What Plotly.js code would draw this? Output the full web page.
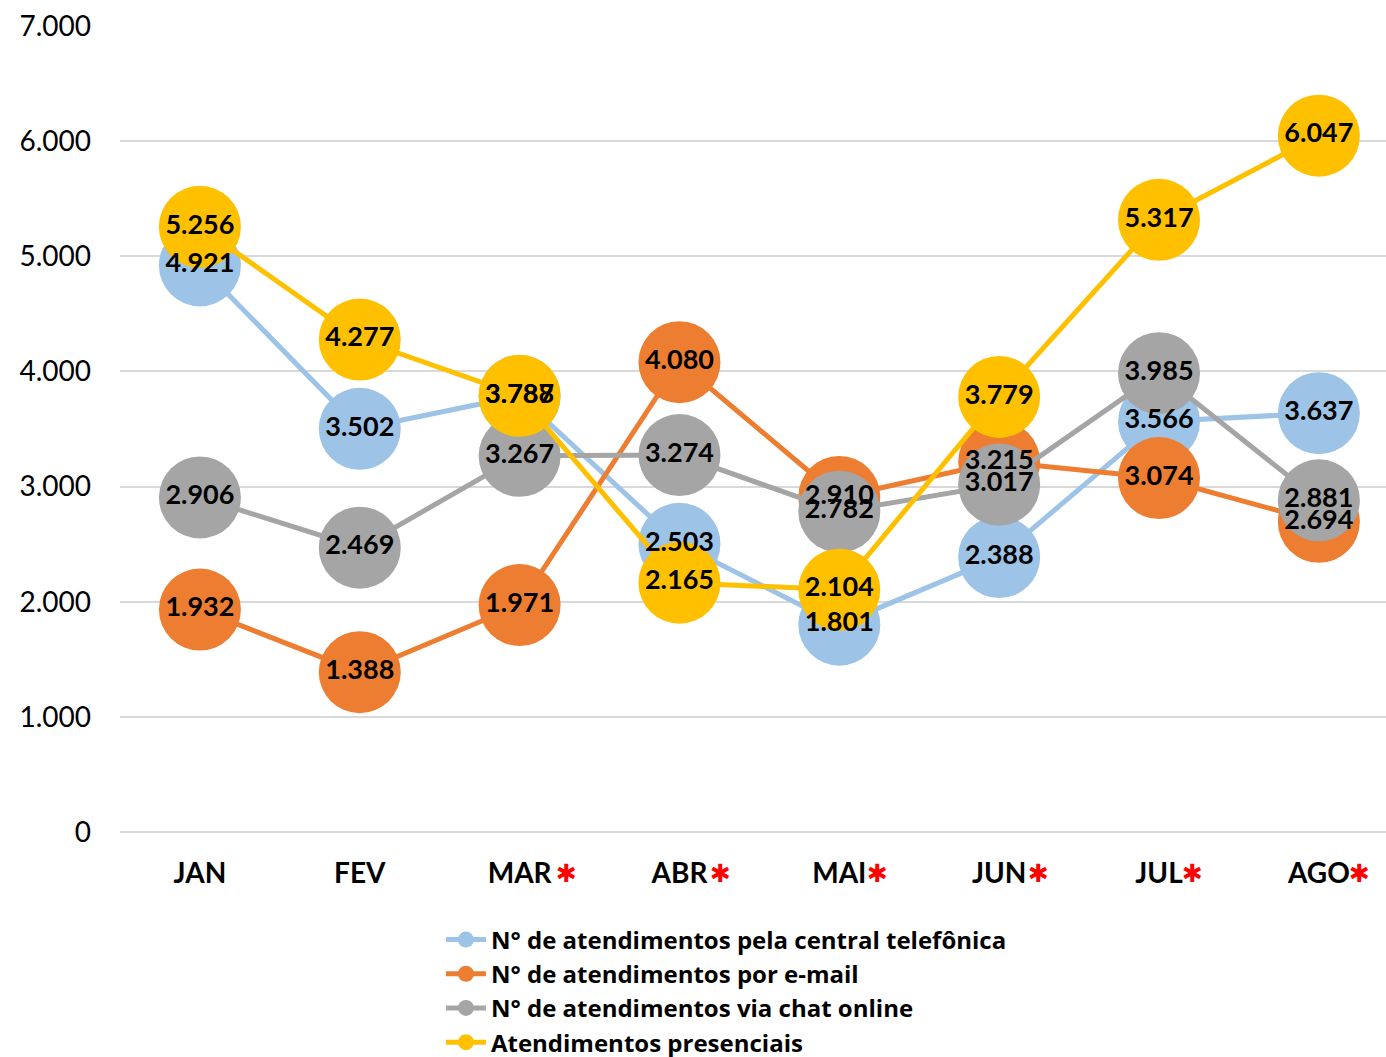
<!DOCTYPE html>
<html>
<head>
<meta charset="utf-8">
<script src="https://cdn.plot.ly/plotly-3.0.1.min.js"></script>
<style>body{margin:0;background:#fff}#chart{width:1386px;height:1057px}</style>
</head>
<body>
<div id="chart"></div>
<script>
const months = ["JAN","FEV","MAR","ABR","MAI","JUN","JUL","AGO"];
const starred = [false,false,true,true,true,true,true,true];
const seriesNames = ["N° de atendimentos pela central telefônica","N° de atendimentos por e-mail","N° de atendimentos via chat online","Atendimentos presenciais"];
const telefonica = [4921, 3502, 3787, 2503, 1801, 2388, 3566, 3637];
const email = [1932, 1388, 1971, 4080, 2910, 3215, 3074, 2694];
const chat = [2906, 2469, 3267, 3274, 2782, 3017, 3985, 2881];
const presenciais = [5256, 4277, 3788, 2165, 2104, 3779, 5317, 6047];
const yTicks = [0,1000,2000,3000,4000,5000,6000,7000];

const colors = ["#9DC3E6","#ED7D31","#A5A5A5","#FFC000"];
const allSeries = [telefonica, email, chat, presenciais];
const FONT = "Lato, 'Open Sans', sans-serif";
const LEGEND_FONT = "'Open Sans', Lato, sans-serif";
// horizontal offset (px) of the red asterisk from each category centre
const asteriskShift = {MAR:47, ABR:41, MAI:38.5, JUN:39.5, JUL:33.5, AGO:40.5};

function fmt(v){ return String(v).replace(/\B(?=(\d{3})+(?!\d))/g, "."); }

const traces = [];
allSeries.forEach((s,i)=>{
  traces.push({
    type:"scatter", mode:"lines+markers", x:months, y:s, name:seriesNames[i],
    line:{color:colors[i], width:5},
    marker:{color:colors[i], size:82},
    cliponaxis:false, hoverinfo:"skip"
  });
});
allSeries.forEach((s,i)=>{
  traces.push({
    type:"scatter", mode:"text", x:months, y:s, text:s.map(fmt),
    textposition:"middle center",
    textfont:{family:FONT, size:27, color:"#000", weight:"bold"},
    showlegend:false, cliponaxis:false, hoverinfo:"skip"
  });
});

const annotations = months.filter((m,i)=>starred[i]).map(m=>({
  x:m, y:0, xref:"x", yref:"y", text:"✱", showarrow:false,
  xanchor:"center", yanchor:"middle", xshift:asteriskShift[m], yshift:-41,
  font:{family:"DejaVu Sans", size:25, color:"#FF0000"}
}));

const layout = {
  width:1386, height:1057,
  margin:{l:120, r:0, t:26, b:225, autoexpand:false},
  paper_bgcolor:"#fff", plot_bgcolor:"#fff",
  separators:",.",
  showlegend:true,
  font:{family:FONT, color:"#000"},
  annotations:annotations,
  xaxis:{
    type:"category", range:[-0.5, 7.42],
    tickmode:"array", tickvals:months, ticktext:months.map(m=>"<b>"+m+"</b>"),
    tickfont:{family:FONT, size:28, color:"#000"},
    showgrid:false, zeroline:false, showline:false, ticks:"",
    ticklabelstandoff:22
  },
  yaxis:{
    range:[0,7000], tickmode:"array", tickvals:yTicks, ticktext:yTicks.map(fmt),
    tickfont:{family:FONT, size:28, color:"#000"},
    showgrid:true, gridcolor:"#D9D9D9", gridwidth:2,
    zeroline:true, zerolinecolor:"#D9D9D9", zerolinewidth:2,
    showline:false, ticks:"", ticklabelstandoff:28
  },
  legend:{
    x:0.2535, y:-0.106, xanchor:"left", yanchor:"top",
    font:{family:LEGEND_FONT, size:24, color:"#000", weight:"bold"},
    tracegroupgap:0, itemwidth:40, bgcolor:"rgba(0,0,0,0)"
  }
};

Plotly.newPlot("chart", traces, layout, {displayModeBar:false, staticPlot:true});
</script>
</body>
</html>
